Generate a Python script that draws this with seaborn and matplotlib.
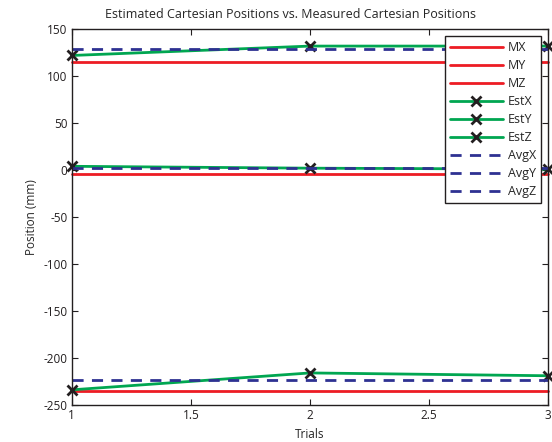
import pandas as pd
import matplotlib
matplotlib.use("Agg")
import matplotlib.pyplot as plt
import seaborn as sns

# Trials and series values (mm)
trials = [1, 2, 3]
mx = [115, 115, 115]
my = [-4, -4, -4]
mz = [-235, -235, -235]
est_x = [122, 132, 132]
est_y = [4, 2, 1]
est_z = [-234, -216, -219]
avg_x = [129, 129, 129]
avg_y = [2, 2, 2]
avg_z = [-223, -223, -223]

x_ticks = [1, 1.5, 2, 2.5, 3]
x_tick_labels = ["1", "1.5", "2", "2.5", "3"]
y_ticks = [-250, -200, -150, -100, -50, 0, 50, 100, 150]

RED = "#ed1c24"
GREEN = "#00a651"
BLUE = "#2e3192"

sns.set_style("ticks")
plt.rcParams['font.family'] = ['Open Sans', 'DejaVu Sans']
plt.rcParams['axes.unicode_minus'] = False

fig = plt.figure(figsize=(5.52, 4.42), dpi=100)
ax = fig.add_axes([0.130, 0.084, 0.863, 0.850])

est_style = dict(color=GREEN, linewidth=2, marker="x", markersize=6.5,
                 markeredgewidth=2, markeredgecolor="#231f20")
avg_style = dict(color=BLUE, linewidth=2, linestyle=(0, (4, 3)))
m_style = dict(color=RED, linewidth=2)

series = [
    ("MX", mx, m_style),
    ("MY", my, m_style),
    ("MZ", mz, m_style),
    ("EstX", est_x, est_style),
    ("EstY", est_y, est_style),
    ("EstZ", est_z, est_style),
    ("AvgX", avg_x, avg_style),
    ("AvgY", avg_y, avg_style),
    ("AvgZ", avg_z, avg_style),
]

for name, vals, style in series:
    df = pd.DataFrame({"Trials": trials, "Position": vals})
    sns.lineplot(data=df, x="Trials", y="Position", ax=ax, label=name,
                 clip_on=False, **style)

ax.set_xlim(1, 3)
ax.set_ylim(-250, 150)
ax.set_xticks(x_ticks)
ax.set_xticklabels(x_tick_labels)
ax.set_yticks(y_ticks)
ax.tick_params(direction="in", top=True, right=True, labelsize=8.5,
               length=4, width=0.8, colors="#231f20", pad=3)
for side in ["top", "right", "left", "bottom"]:
    ax.spines[side].set_visible(True)
    ax.spines[side].set_linewidth(1.0)
    ax.spines[side].set_color("#231f20")

ax.set_xlabel("Trials", fontsize=8.5, labelpad=4)
ax.set_ylabel("Position (mm)", fontsize=8.5, labelpad=4)
ax.set_title("Estimated Cartesian Positions vs. Measured Cartesian Positions",
             fontsize=9, pad=8, x=0.46)

leg = ax.legend(loc="upper right", bbox_to_anchor=(0.985, 0.981),
                borderaxespad=0, fontsize=9, handlelength=4.2,
                labelspacing=0.4, fancybox=False, framealpha=1,
                edgecolor="#231f20", borderpad=0.4, handletextpad=0.4)
leg.get_frame().set_linewidth(1.0)

fig.savefig("out.png", dpi=100)
